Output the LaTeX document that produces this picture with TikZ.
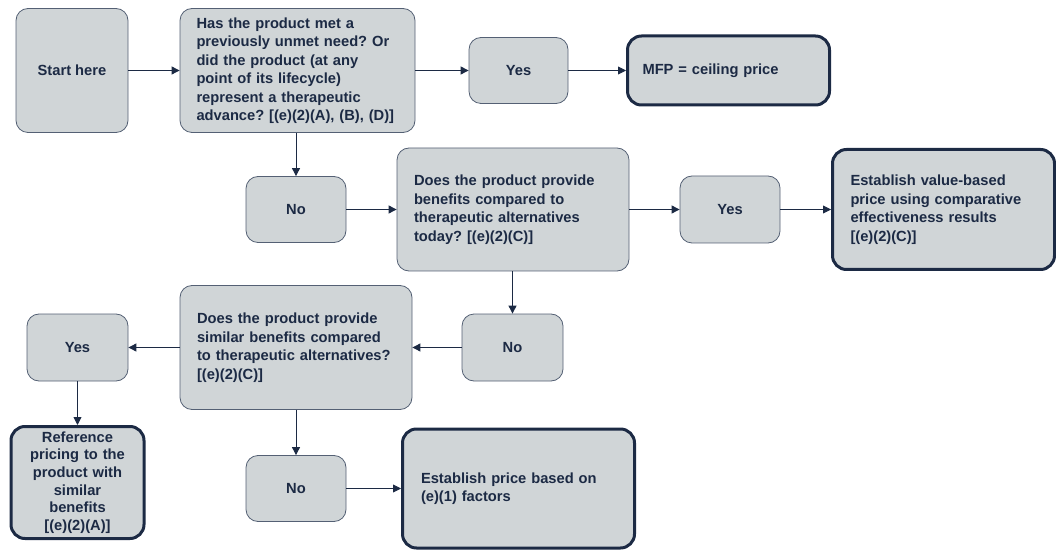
\documentclass[tikz,border=0pt]{standalone}
\usepackage{fontspec}
\setmainfont{Liberation Sans}
\usepackage{xcolor}
\usetikzlibrary{arrows.meta,positioning,calc}
\definecolor{boxfill}{RGB}{208,213,215}
\definecolor{navy}{RGB}{28,42,68}
\definecolor{edgegray}{RGB}{84,96,116}
\frenchspacing

\begin{document}
\begin{tikzpicture}[x=1pt,y=1pt,>={Triangle[length=8pt,width=8pt]},
  box/.style={draw=edgegray,line width=0.8pt,fill=boxfill,rounded corners=12pt,text=navy,
    font=\fontsize{14.7}{18.5}\selectfont\bfseries,align=center,inner sep=0pt},
  endbox/.style={box,draw=navy,line width=3pt,rounded corners=14pt},
  arr/.style={->,draw=navy,line width=0.9pt}]
\useasboundingbox (0,0) rectangle (1056,552);
% first row
\node[box,minimum width=112pt,minimum height=124pt](start) at (72,481.5){Start here};
\node[box,minimum width=235pt,minimum height=124pt,text width=202pt,align=left](q1) at (297.5,481.5)
  {Has the product met a\\previously unmet need? Or\\did the product (at any\\point of its lifecycle)\\represent a therapeutic\\advance? [(e)(2)(A), (B), (D)]};
\node[box,minimum width=99pt,minimum height=66pt](yes1) at (518.5,481.5){Yes};
\node[endbox,minimum width=202pt,minimum height=69pt,text width=172pt,align=left](mfp) at (728.5,481.5){MFP = ceiling price};
% second row
\node[box,minimum width=100pt,minimum height=66pt](no1) at (296,342.5){No};
\node[box,minimum width=232pt,minimum height=123pt,text width=198pt,align=left](q2) at (513,342.5)
  {Does the product provide\\benefits compared to\\therapeutic alternatives\\today? [(e)(2)(C)]};
\node[box,minimum width=100pt,minimum height=67pt](yes2) at (730,342.5){Yes};
\node[endbox,minimum width=222pt,minimum height=120pt,text width=186pt,align=left](evb) at (943.5,342.5)
  {Establish value-based\\price using comparative\\effectiveness results\\{}[(e)(2)(C)]};
% third row
\node[box,minimum width=232pt,minimum height=124pt,text width=198pt,align=left](q3) at (296,204.5)
  {Does the product provide\\similar benefits compared\\to therapeutic alternatives?\\{}[(e)(2)(C)]};
\node[box,minimum width=101pt,minimum height=67pt](no2) at (512.5,204.5){No};
\node[box,minimum width=101pt,minimum height=67pt](yes3) at (77.5,204.5){Yes};
% fourth row
\node[endbox,minimum width=133pt,minimum height=112pt,text width=125pt,
  font=\fontsize{14.7}{17.6}\selectfont\bfseries](ref) at (77.5,69.5)
  {Reference\\pricing to the\\product with\\similar\\benefits\\{}[(e)(2)(A)]};
\node[box,minimum width=100pt,minimum height=66pt](no3) at (296,63.5){No};
\node[endbox,minimum width=232pt,minimum height=119pt,text width=195pt,align=left](est) at (518.5,63.5)
  {Establish price based on\\(e)(1) factors};
% connectors
\draw[arr](start)--(q1);
\draw[arr](q1)--(yes1);
\draw[arr](yes1)--(mfp);
\draw[arr](q1.south -| no1)--(no1);
\draw[arr](no1)--(q2);
\draw[arr](q2)--(yes2);
\draw[arr](yes2)--(evb);
\draw[arr](q2.south -| no2)--(no2);
\draw[arr](no2)--(q3);
\draw[arr](q3)--(yes3);
\draw[arr](yes3)--(ref);
\draw[arr](q3)--(no3);
\draw[arr](no3)--(est);
\end{tikzpicture}
\end{document}
